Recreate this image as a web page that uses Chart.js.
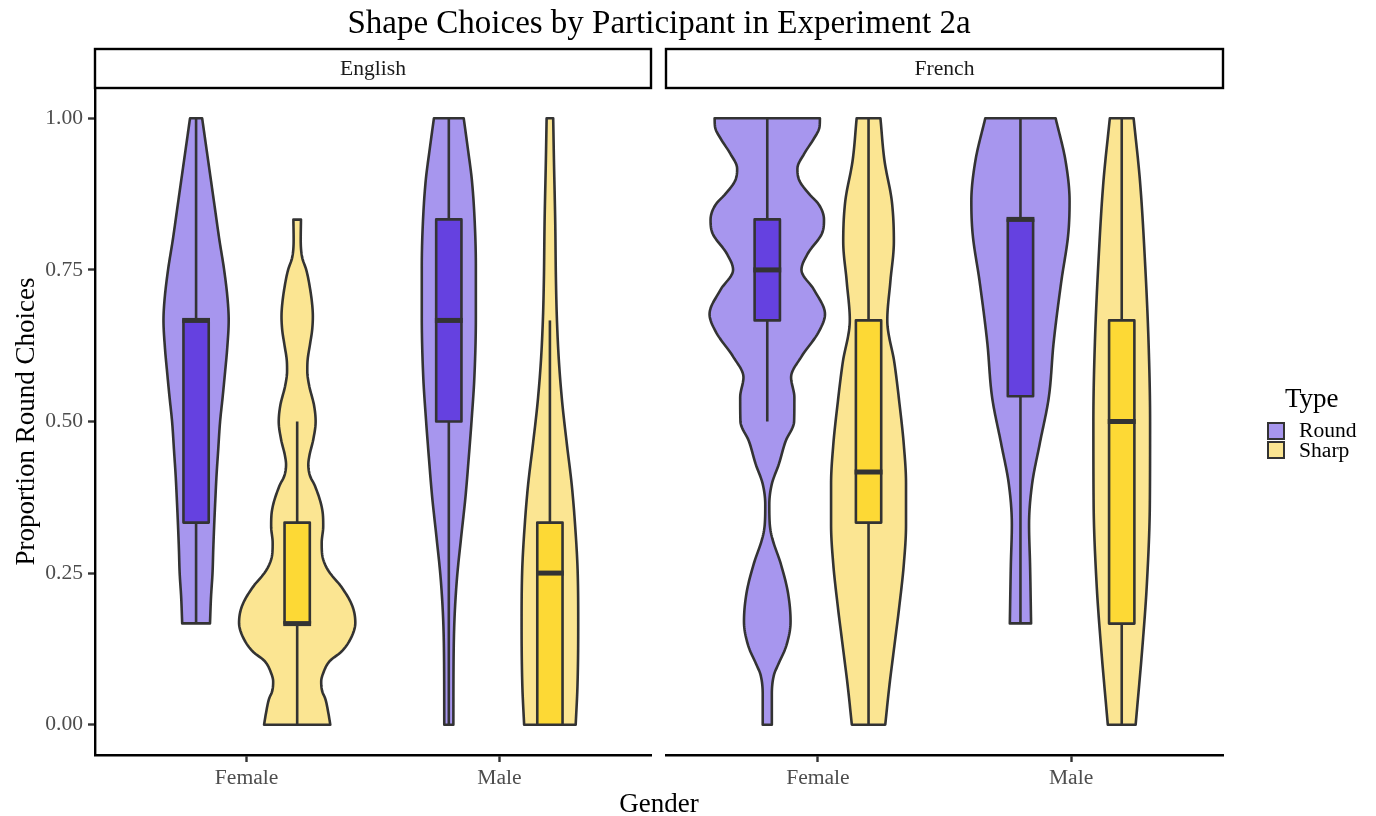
<!DOCTYPE html>
<html>
<head>
<meta charset="utf-8">
<script src="https://cdn.jsdelivr.net/npm/chart.js@4.4.1/dist/chart.umd.min.js"></script>
<style>
  html, body { margin: 0; padding: 0; background: #ffffff; }
  body { width: 1376px; height: 816px; position: relative; overflow: hidden;
         font-family: "Liberation Serif", "Times New Roman", serif; }
  canvas { position: absolute; top: 0; }
  .txt { position: absolute; white-space: nowrap; line-height: 1; color: #000; }
  .center { transform: translate(-50%, -50%); }
  .left { transform: translate(0, -50%); }
  .key { position: absolute; width: 14px; height: 14px; border: 2px solid #333; }
</style>
</head>
<body>
<canvas id="chartEnglish" width="658" height="816" style="left:0px"></canvas>
<canvas id="chartFrench" width="718" height="816" style="left:658px"></canvas>

<div class="txt center" style="left:659px; top:22px; font-size:33px;">Shape Choices by Participant in Experiment 2a</div>
<div class="txt center" style="left:659px; top:803px; font-size:27px;">Gender</div>

<div class="txt left" style="left:1285px; top:398px; font-size:27px;">Type</div>
<div class="key" style="left:1267px; top:422px; background:#A796EE;"></div>
<div class="txt left" style="left:1299px; top:431px; font-size:21.6px;">Round</div>
<div class="key" style="left:1267px; top:441px; background:#FBE592;"></div>
<div class="txt left" style="left:1299px; top:451px; font-size:21.6px;">Sharp</div>

<script>
// ---- categories ----
const languages = ['English', 'French'];
const genders = ['Female', 'Male'];
const types = ['Round', 'Sharp'];
const yTickValues = [0, 0.25, 0.5, 0.75, 1];

// ---- box statistics: [lower whisker, Q1, median, Q3, upper whisker], one row per gender ----
const englishRoundBoxes = [[0.1667, 0.3333, 0.6667, 0.6667, 1.0], [0.0, 0.5, 0.6667, 0.8333, 1.0]];
const englishSharpBoxes = [[0.0, 0.1667, 0.1667, 0.3333, 0.5], [0.0, 0.0, 0.25, 0.3333, 0.6667]];
const frenchRoundBoxes  = [[0.5, 0.6667, 0.75, 0.8333, 1.0], [0.1667, 0.5417, 0.8333, 0.8333, 1.0]];
const frenchSharpBoxes  = [[0.0, 0.3333, 0.4167, 0.6667, 1.0], [0.0, 0.1667, 0.5, 0.6667, 1.0]];

// ---- violin outlines: [proportion, half width of the density in x-axis units] ----
const englishFemaleRound = [[1, 0.024], [0.95, 0.041], [0.9, 0.058], [0.85, 0.075], [0.8, 0.092], [0.75, 0.111],
  [0.7, 0.125], [0.667, 0.129], [0.62, 0.123], [0.583, 0.115], [0.54, 0.105], [0.5, 0.095], [0.45, 0.087],
  [0.412, 0.081], [0.37, 0.076], [0.333, 0.072], [0.29, 0.068], [0.25, 0.065], [0.21, 0.059], [0.167, 0.055]];
const englishFemaleSharp = [[0.833, 0.015], [0.8, 0.014], [0.77, 0.02], [0.75, 0.036], [0.719, 0.051], [0.69, 0.06],
  [0.673, 0.062], [0.65, 0.059], [0.628, 0.051], [0.6, 0.041], [0.583, 0.04], [0.56, 0.047], [0.526, 0.067],
  [0.5, 0.073], [0.469, 0.063], [0.445, 0.049], [0.429, 0.044], [0.41, 0.051], [0.395, 0.069], [0.355, 0.099],
  [0.327, 0.103], [0.3, 0.097], [0.28, 0.099], [0.26, 0.115], [0.245, 0.139], [0.23, 0.17], [0.196, 0.218],
  [0.168, 0.23], [0.139, 0.208], [0.12, 0.174], [0.105, 0.129], [0.085, 0.103], [0.071, 0.095], [0.055, 0.099],
  [0.043, 0.111], [0.02, 0.123], [0, 0.131]];
const englishMaleRound = [[1, 0.059], [0.951, 0.075], [0.899, 0.091], [0.833, 0.102], [0.755, 0.107], [0.673, 0.107],
  [0.572, 0.101], [0.507, 0.091], [0.441, 0.079], [0.376, 0.066], [0.31, 0.049], [0.245, 0.033], [0.18, 0.023],
  [0.114, 0.019], [0, 0.018]];
const englishMaleSharp = [[1, 0.013], [0.93, 0.016], [0.83, 0.021], [0.73, 0.024], [0.665, 0.028], [0.597, 0.036],
  [0.53, 0.049], [0.463, 0.067], [0.397, 0.086], [0.333, 0.099], [0.25, 0.11], [0.163, 0.112], [0.063, 0.109],
  [0, 0.102]];
const frenchFemaleRound = [[1, 0.208], [0.985, 0.206], [0.965, 0.182], [0.943, 0.148], [0.917, 0.119], [0.897, 0.127],
  [0.875, 0.166], [0.857, 0.205], [0.833, 0.224], [0.81, 0.216], [0.777, 0.16], [0.75, 0.135], [0.717, 0.185],
  [0.677, 0.228], [0.647, 0.202], [0.607, 0.135], [0.573, 0.094], [0.54, 0.107], [0.5, 0.106], [0.467, 0.072],
  [0.43, 0.046], [0.397, 0.018], [0.363, 0.008], [0.33, 0.01], [0.31, 0.018], [0.263, 0.055], [0.217, 0.082],
  [0.17, 0.092], [0.13, 0.075], [0.1, 0.044], [0.083, 0.027], [0.05, 0.018], [0, 0.018]];
const frenchFemaleSharp = [[1, 0.047], [0.93, 0.063], [0.863, 0.092], [0.797, 0.1], [0.73, 0.086], [0.667, 0.074],
  [0.597, 0.102], [0.53, 0.122], [0.463, 0.139], [0.397, 0.148], [0.33, 0.148], [0.263, 0.139], [0.197, 0.122],
  [0.13, 0.102], [0.063, 0.082], [0, 0.066]];
const frenchMaleRound = [[1, 0.139], [0.93, 0.178], [0.863, 0.194], [0.81, 0.189], [0.73, 0.161], [0.63, 0.131],
  [0.54, 0.112], [0.463, 0.076], [0.397, 0.046], [0.33, 0.034], [0.263, 0.038], [0.167, 0.042]];
const frenchMaleSharp = [[1, 0.047], [0.897, 0.072], [0.763, 0.092], [0.63, 0.106], [0.5, 0.112], [0.363, 0.111],
  [0.23, 0.099], [0.13, 0.082], [0, 0.055]];

// ---- styling ----
const violinFill = { Round: '#A796EE', Sharp: '#FBE592' };
const boxFill = { Round: '#6541E0', Sharp: '#FDD935' };
const outline = '#333333';
const dodge = { Round: -0.2, Sharp: 0.2 };
const boxHalfWidth = 0.05;
const serif = '"Liberation Serif", "Times New Roman", serif';

const facets = {
  English: {
    violins: { Round: [englishFemaleRound, englishMaleRound], Sharp: [englishFemaleSharp, englishMaleSharp] },
    boxes: { Round: englishRoundBoxes, Sharp: englishSharpBoxes }
  },
  French: {
    violins: { Round: [frenchFemaleRound, frenchMaleRound], Sharp: [frenchFemaleSharp, frenchMaleSharp] },
    boxes: { Round: frenchRoundBoxes, Sharp: frenchSharpBoxes }
  }
};

// Monotone cubic (Fritsch–Carlson) interpolation of a violin outline
function outlineFn(points) {
  const pts = points.slice().sort((a, b) => a[0] - b[0]);
  const xs = pts.map(p => p[0]), ys = pts.map(p => p[1]);
  const n = pts.length, d = [], m = new Array(n);
  for (let i = 0; i < n - 1; i++) d.push((ys[i + 1] - ys[i]) / (xs[i + 1] - xs[i]));
  m[0] = d[0]; m[n - 1] = d[n - 2];
  for (let i = 1; i < n - 1; i++) m[i] = (d[i - 1] * d[i] <= 0) ? 0 : (d[i - 1] + d[i]) / 2;
  for (let i = 0; i < n - 1; i++) {
    if (d[i] === 0) { m[i] = 0; m[i + 1] = 0; continue; }
    const a = m[i] / d[i], b = m[i + 1] / d[i], s = a * a + b * b;
    if (s > 9) { const t = 3 / Math.sqrt(s); m[i] = t * a * d[i]; m[i + 1] = t * b * d[i]; }
  }
  const fn = v => {
    let i = 0;
    while (i < n - 2 && v > xs[i + 1]) i++;
    const h = xs[i + 1] - xs[i], t = Math.min(1, Math.max(0, (v - xs[i]) / h));
    const t2 = t * t, t3 = t2 * t;
    return (2 * t3 - 3 * t2 + 1) * ys[i] + (t3 - 2 * t2 + t) * h * m[i] +
           (-2 * t3 + 3 * t2) * ys[i + 1] + (t3 - t2) * h * m[i + 1];
  };
  return { fn, lo: xs[0], hi: xs[n - 1] };
}

const facetPlugin = {
  id: 'facetViolins',
  afterDatasetsDraw(chart, args, opts) {
    const ctx = chart.ctx, xs = chart.scales.x, ys = chart.scales.y;
    const facet = facets[opts.facet];
    ctx.save();
    ctx.lineJoin = 'round';
    types.forEach(type => {
      genders.forEach((g, gi) => {
        const center = gi + 1 + dodge[type];
        // violin
        const { fn, lo, hi } = outlineFn(facet.violins[type][gi]);
        const steps = 300;
        ctx.beginPath();
        for (let k = 0; k <= steps; k++) {
          const v = lo + (hi - lo) * k / steps;
          const px = xs.getPixelForValue(center + fn(v)), py = ys.getPixelForValue(v);
          if (k === 0) ctx.moveTo(px, py); else ctx.lineTo(px, py);
        }
        for (let k = steps; k >= 0; k--) {
          const v = lo + (hi - lo) * k / steps;
          ctx.lineTo(xs.getPixelForValue(center - fn(v)), ys.getPixelForValue(v));
        }
        ctx.closePath();
        ctx.fillStyle = violinFill[type];
        ctx.fill();
        ctx.lineWidth = 2.6;
        ctx.strokeStyle = outline;
        ctx.stroke();

        // box and whiskers
        const [wLo, q1, med, q3, wHi] = facet.boxes[type][gi];
        const cx = xs.getPixelForValue(center);
        const x0 = xs.getPixelForValue(center - boxHalfWidth), x1 = xs.getPixelForValue(center + boxHalfWidth);
        ctx.lineWidth = 2.6;
        ctx.lineCap = 'butt';
        ctx.beginPath();
        ctx.moveTo(cx, ys.getPixelForValue(wLo)); ctx.lineTo(cx, ys.getPixelForValue(q1));
        ctx.moveTo(cx, ys.getPixelForValue(q3)); ctx.lineTo(cx, ys.getPixelForValue(wHi));
        ctx.stroke();
        const yTop = ys.getPixelForValue(q3), yBot = ys.getPixelForValue(q1);
        ctx.fillStyle = boxFill[type];
        ctx.fillRect(x0, yTop, x1 - x0, yBot - yTop);
        ctx.strokeRect(x0, yTop, x1 - x0, yBot - yTop);
        ctx.lineWidth = 5;
        ctx.beginPath();
        ctx.moveTo(x0 - 1.3, ys.getPixelForValue(med)); ctx.lineTo(x1 + 1.3, ys.getPixelForValue(med));
        ctx.stroke();
      });
    });
    ctx.restore();
  },
  afterDraw(chart, args, opts) {
    // facet strip above the panel
    const ctx = chart.ctx, a = chart.chartArea;
    const top = a.top - 39;
    ctx.save();
    ctx.fillStyle = '#ffffff';
    ctx.fillRect(a.left, top, a.right - a.left, 39);
    ctx.lineWidth = 2.4;
    ctx.strokeStyle = '#000000';
    ctx.strokeRect(a.left, top, a.right - a.left, 39);
    ctx.fillStyle = '#1a1a1a';
    ctx.font = '21.6px ' + serif;
    ctx.textAlign = 'center';
    ctx.textBaseline = 'middle';
    ctx.fillText(opts.facet, (a.left + a.right) / 2, top + 20.5);
    ctx.restore();
  }
};

function makeFacet(canvasId, facetName, showY, padding) {
  return new Chart(document.getElementById(canvasId), {
    type: 'scatter',
    data: { datasets: [] },
    plugins: [facetPlugin],
    options: {
      responsive: false,
      animation: false,
      devicePixelRatio: 1,
      layout: { padding },
      plugins: { legend: { display: false }, tooltip: { enabled: false }, facetViolins: { facet: facetName } },
      scales: {
        x: {
          type: 'linear', min: 0.4, max: 2.6,
          afterBuildTicks: s => { s.ticks = genders.map((g, i) => ({ value: i + 1 })); },
          afterFit: s => { s.height = 61; },
          ticks: { callback: (v, i) => genders[i], color: '#4d4d4d', font: { family: serif, size: 21.6 },
                   padding: 3, maxRotation: 0, autoSkip: false },
          grid: { drawOnChartArea: false, drawTicks: true, tickLength: 7, tickColor: '#333333', tickWidth: 2.4 },
          border: { display: true, color: '#000000', width: 2.4 }
        },
        y: {
          type: 'linear', display: showY, min: -0.05, max: 1.05,
          afterBuildTicks: s => { s.ticks = yTickValues.map(v => ({ value: v })); },
          afterFit: s => { s.width = showY ? 95 : 0; },
          ticks: { callback: v => v.toFixed(2), color: '#4d4d4d', font: { family: serif, size: 21.6 }, padding: 5 },
          grid: { drawOnChartArea: false, drawTicks: true, tickLength: 7, tickColor: '#333333', tickWidth: 2.4 },
          border: { display: true, color: '#000000', width: 2.4 },
          title: { display: true, text: 'Proportion Round Choices', color: '#000000',
                   font: { family: serif, size: 27 }, padding: { top: 11, bottom: 0 } }
        }
      }
    }
  });
}

makeFacet('chartEnglish', languages[0], true, { top: 88, right: 7, bottom: 0, left: 0 });
makeFacet('chartFrench', languages[1], false, { top: 88, right: 153, bottom: 0, left: 8 });
</script>
</body>
</html>
